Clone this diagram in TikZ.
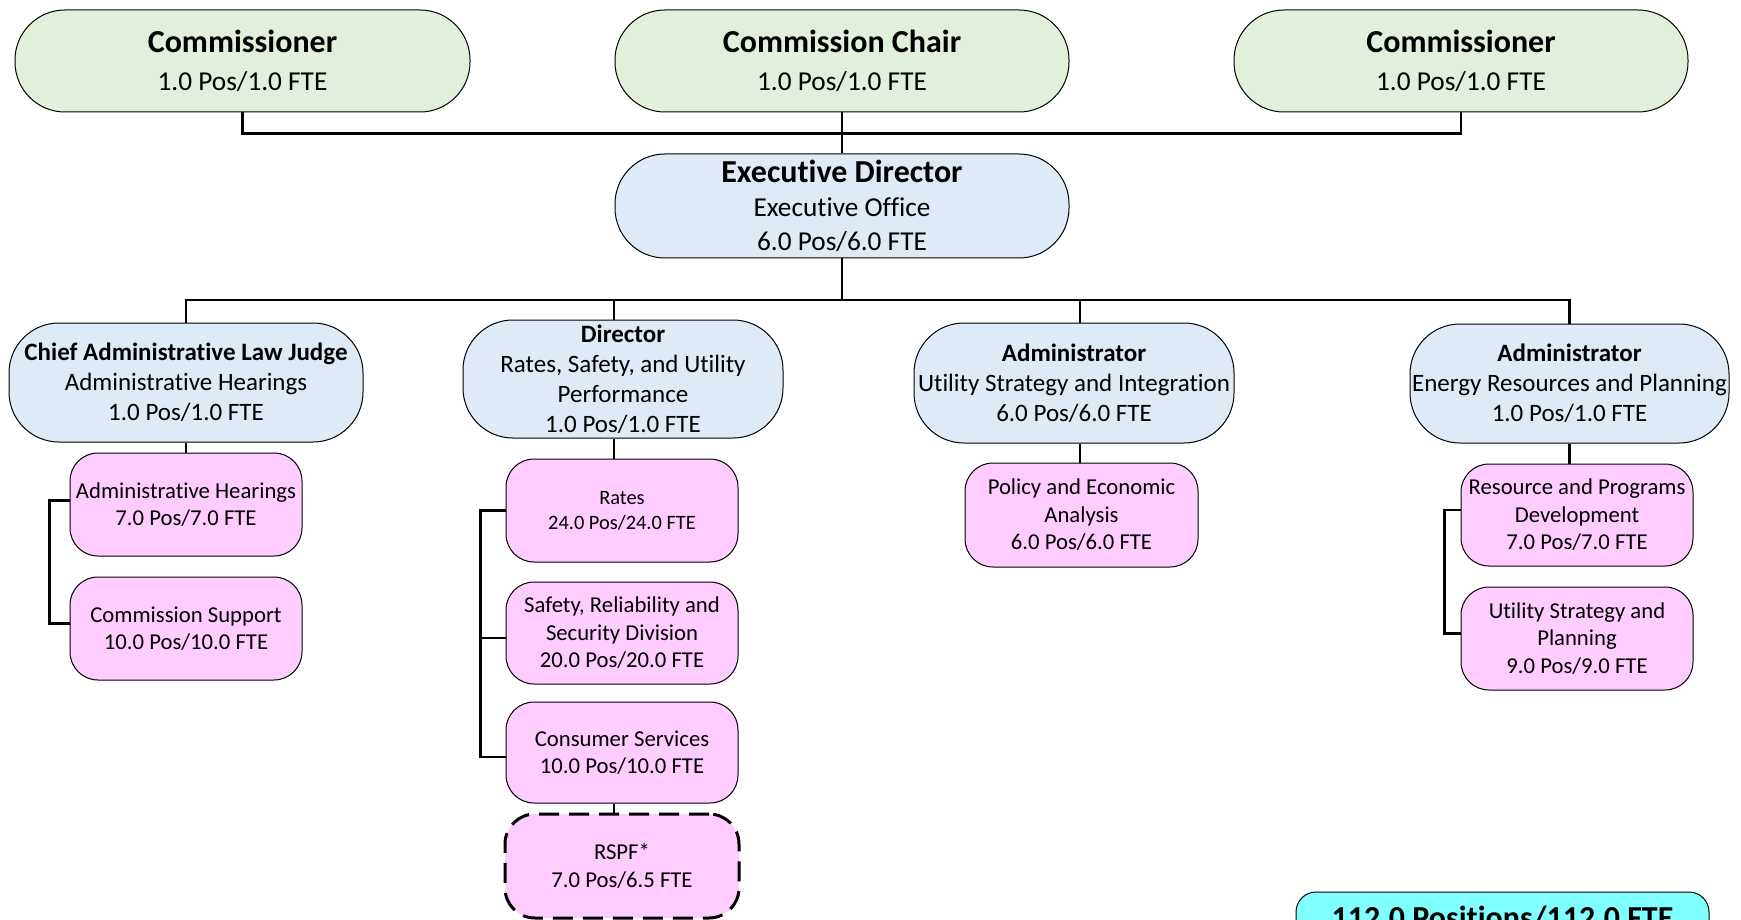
\documentclass[tikz,border=0pt]{standalone}
\usepackage{fontspec}
\setmainfont{Carlito}[Ligatures={NoCommon,NoContextual,NoRequired},Contextuals=NoAlternate]
\definecolor{topgreen}{HTML}{E2EFDA}
\definecolor{midblue}{HTML}{DEEBF7}
\definecolor{unitpink}{HTML}{FFCCFF}
\definecolor{totcyan}{HTML}{80FFFF}
\tikzset{
  boxbase/.style={draw=black, line width=1pt, inner sep=0pt, align=center, text=black},
  topbox/.style={boxbase, fill=topgreen, rounded corners=50pt, minimum height=102pt, font=\fontsize{27.3}{37.5}\selectfont},
  edbox/.style={boxbase, fill=midblue, rounded corners=50pt, minimum height=104pt, font=\fontsize{27.3}{34}\selectfont},
  lvlbox/.style={boxbase, fill=midblue, rounded corners=50pt, minimum height=119pt, font=\fontsize{25}{30}\selectfont},
  unitbox/.style={boxbase, fill=unitpink, rounded corners=28pt, minimum width=232pt, minimum height=103pt, font=\fontsize{22.7}{27.5}\selectfont},
  conn/.style={draw=black, line width=2.4pt},
}
\begin{document}
\begin{tikzpicture}[x=1pt,y=-1pt]
\fill[white] (0,0) rectangle (1741,920);
\useasboundingbox (0,0) rectangle (1741,920);

% top row
\node[topbox, minimum width=455pt] (cL) at (242.5,61) {{\bfseries\fontsize{32}{37.5}\selectfont Commissioner}\\1.0 Pos/1.0 FTE};
\node[topbox, minimum width=454pt] (chair) at (842,61) {{\bfseries\fontsize{32}{37.5}\selectfont Commission Chair}\\1.0 Pos/1.0 FTE};
\node[topbox, minimum width=454pt] (cR) at (1461,61) {{\bfseries\fontsize{32}{37.5}\selectfont Commissioner}\\1.0 Pos/1.0 FTE};

% executive director
\node[edbox, minimum width=454pt] (ed) at (842,206) {{\bfseries\fontsize{32}{34}\selectfont Executive Director}\\Executive Office\\6.0 Pos/6.0 FTE};

% level 2
\node[lvlbox, minimum width=354pt] (alj) at (186,382.5) {\textbf{Chief Administrative Law Judge}\\Administrative Hearings\\1.0 Pos/1.0 FTE};
\node[lvlbox, minimum width=320pt, minimum height=118pt] (dir) at (623,379) {\textbf{Director}\\Rates, Safety, and Utility\\Performance\\1.0 Pos/1.0 FTE};
\node[lvlbox, minimum width=320pt, minimum height=120pt] (usi) at (1074,383) {\textbf{Administrator}\\Utility Strategy and Integration\\6.0 Pos/6.0 FTE};
\node[lvlbox, minimum width=319pt] (erp) at (1569.5,383.5) {\textbf{Administrator}\\Energy Resources and Planning\\1.0 Pos/1.0 FTE};

% units
\node[unitbox] (ah) at (186,504.5) {Administrative Hearings\\7.0 Pos/7.0 FTE};
\node[unitbox] (cs) at (186,628.5) {Commission Support\\10.0 Pos/10.0 FTE};
\node[unitbox, font=\fontsize{20.4}{25}\selectfont] (rates) at (622,510.5) {Rates\\24.0 Pos/24.0 FTE};
\node[unitbox, minimum height=102pt] (safety) at (622,633) {Safety, Reliability and\\Security Division\\20.0 Pos/20.0 FTE};
\node[unitbox, minimum height=101pt] (cons) at (622,752.5) {Consumer Services\\10.0 Pos/10.0 FTE};
\node[unitbox, minimum width=234pt, minimum height=104pt, line width=3pt, dash pattern=on 20pt off 10pt, rounded corners=30pt, font=\fontsize{22.7}{28}\selectfont] (rspf) at (622,866) {RSPF*\\7.0 Pos/6.5 FTE};
\node[unitbox, minimum width=233pt, minimum height=104pt] (pol) at (1081.5,515) {Policy and Economic\\Analysis\\6.0 Pos/6.0 FTE};
\node[unitbox, minimum height=102pt] (rpd) at (1577,515) {Resource and Programs\\Development\\7.0 Pos/7.0 FTE};
\node[unitbox] (usp) at (1577,638.5) {Utility Strategy and\\Planning\\9.0 Pos/9.0 FTE};

% total
\node[boxbase, fill=totcyan, rounded corners=20pt, minimum width=413pt, minimum height=52pt, font=\bfseries\fontsize{32}{38}\selectfont] (tot) at (1502.5,918) {112.0 Positions/112.0 FTE};

% connectors
\draw[conn] (cL.south) -- ++(0,21) -| (cR.south);
\draw[conn] (chair.south) -- (ed.north);
\coordinate (bus2) at (842,300);
\draw[conn] (ed.south) -- (bus2);
\draw[conn] (alj.north) |- (bus2) -| (erp.north);
\draw[conn] ([xshift=-9pt]dir.north) -- ([xshift=-9pt]dir.north |- bus2);
\draw[conn] ([xshift=6pt]usi.north) -- ([xshift=6pt]usi.north |- bus2);

\draw[conn] (alj.south) -- (ah.north);
\draw[conn] ([yshift=4pt]ah.west) -- ++(-20,0) |- ([yshift=5pt]cs.west);

\draw[conn] ([xshift=-9pt]dir.south) -- ([xshift=-9pt]dir.south |- rates.north);
\draw[conn] (rates.west) -- ++(-25,0) |- ([yshift=-4.5pt]cons.west);
\draw[conn] ([yshift=-5pt]safety.west) -- ++(-25,0);
\draw[conn] ([xshift=-8pt]cons.south) -- ([xshift=-8pt]cons.south |- rspf.north);

\draw[conn] ([xshift=6pt]usi.south) -- ([xshift=6pt]usi.south |- pol.north);

\draw[conn] (erp.south) -- (erp.south |- rpd.north);
\draw[conn] ([yshift=5pt]rpd.west) -- ++(-16,0) |- ([yshift=5pt]usp.west);
\end{tikzpicture}
\end{document}
